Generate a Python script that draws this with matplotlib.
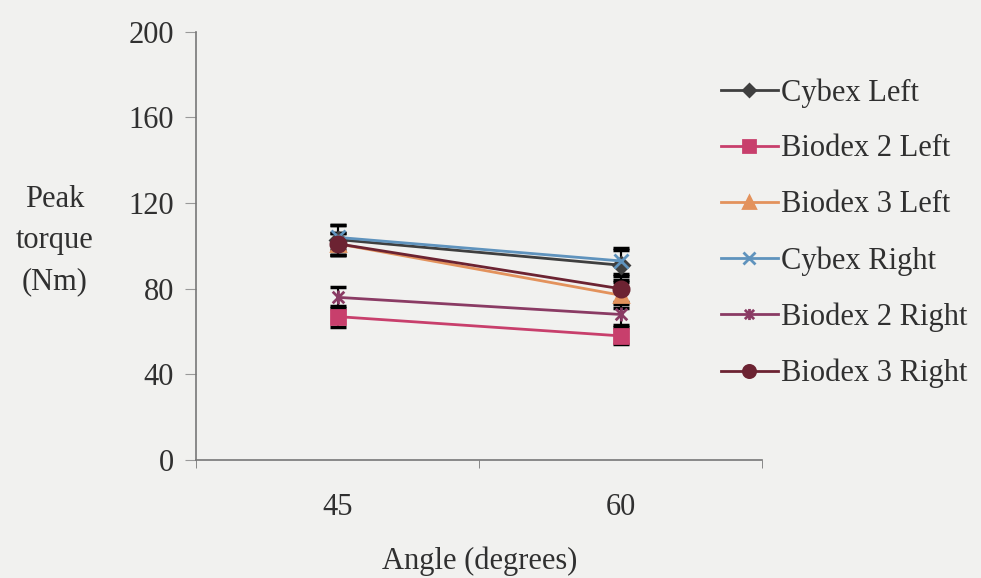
import matplotlib.pyplot as plt
import numpy as np
from matplotlib.path import Path

plt.rcParams['font.family'] = ['Liberation Serif', 'DejaVu Serif']

angles = ['45', '60']
series = ['Cybex Left', 'Biodex 2 Left', 'Biodex 3 Left',
          'Cybex Right', 'Biodex 2 Right', 'Biodex 3 Right']
means = {
    'Cybex Left':     [103, 91],
    'Biodex 2 Left':  [67, 58],
    'Biodex 3 Left':  [101, 77],
    'Cybex Right':    [104, 93],
    'Biodex 2 Right': [76, 68],
    'Biodex 3 Right': [101, 80],
}
errs = {
    'Cybex Left':     [7, 7],
    'Biodex 2 Left':  [5, 4],
    'Biodex 3 Left':  [5, 6],
    'Cybex Right':    [6, 6],
    'Biodex 2 Right': [5, 5],
    'Biodex 3 Right': [5, 6],
}

# asterisk marker: x plus vertical bar
star = Path([(-1, -1), (1, 1), (-1, 1), (1, -1), (0, -1.2), (0, 1.2)],
            [Path.MOVETO, Path.LINETO, Path.MOVETO, Path.LINETO, Path.MOVETO, Path.LINETO])

colors = ['#3f3f3f', '#c83f6c', '#e3925c', '#5f93bd', '#8a3b64', '#6c2332']
markers = ['D', 's', '^', 'x', star, 'o']
msizes = [8, 10, 10, 10, 10, 11]

bg = '#f1f1ef'
txt = '#303030'
fs = 22
fig = plt.figure(figsize=(9.81, 5.78), dpi=100, facecolor=bg)
ax = fig.add_axes([0.2, 0.204, 0.577, 0.741])
ax.set_facecolor(bg)

x = np.arange(1, len(angles) + 1)
handles = []
for s, c, m, ms in zip(series, colors, markers, msizes):
    ax.errorbar(x, means[s], yerr=errs[s], fmt='none', ecolor='black',
                elinewidth=1.5, capsize=6, capthick=2.5, zorder=2)
    h, = ax.plot(x, means[s], color=c, marker=m, markersize=ms, lw=2,
                 markeredgewidth=2, label=s, zorder=3)
    handles.append(h)

ax.set_xlim(0.5, 2.5)
ax.set_ylim(0, 200)
ax.set_yticks(np.arange(0, 201, 40))
ax.set_xticks(x)
ax.set_xticklabels(angles)
ax.set_xticks([0.5, 1.5, 2.5], minor=True)
ax.tick_params(axis='x', which='major', length=0, pad=24, labelsize=fs, labelcolor=txt)
ax.tick_params(axis='x', which='minor', length=6, color='#777777', direction='out')
ax.tick_params(axis='y', length=8, color='#999999', labelsize=fs, pad=8, labelcolor=txt)
for sp in ['top', 'right']:
    ax.spines[sp].set_visible(False)
for sp in ['left', 'bottom']:
    ax.spines[sp].set_color('#777777')
    ax.spines[sp].set_linewidth(1.2)

ax.set_xlabel('Angle (degrees)', fontsize=fs, labelpad=17, color=txt)
fig.text(0.056, 0.584, 'Peak\ntorque\n(Nm)', ha='center', va='center',
         fontsize=fs, color=txt, linespacing=1.55)

fig.legend(handles=handles, loc='upper left', bbox_to_anchor=(0.735, 0.865),
           frameon=False, fontsize=fs, labelspacing=0.88, handlelength=1.85,
           handletextpad=0.12, labelcolor=txt, borderaxespad=0, borderpad=0,
           markerscale=0.8)

fig.savefig('out.png', dpi=100, facecolor=bg)
